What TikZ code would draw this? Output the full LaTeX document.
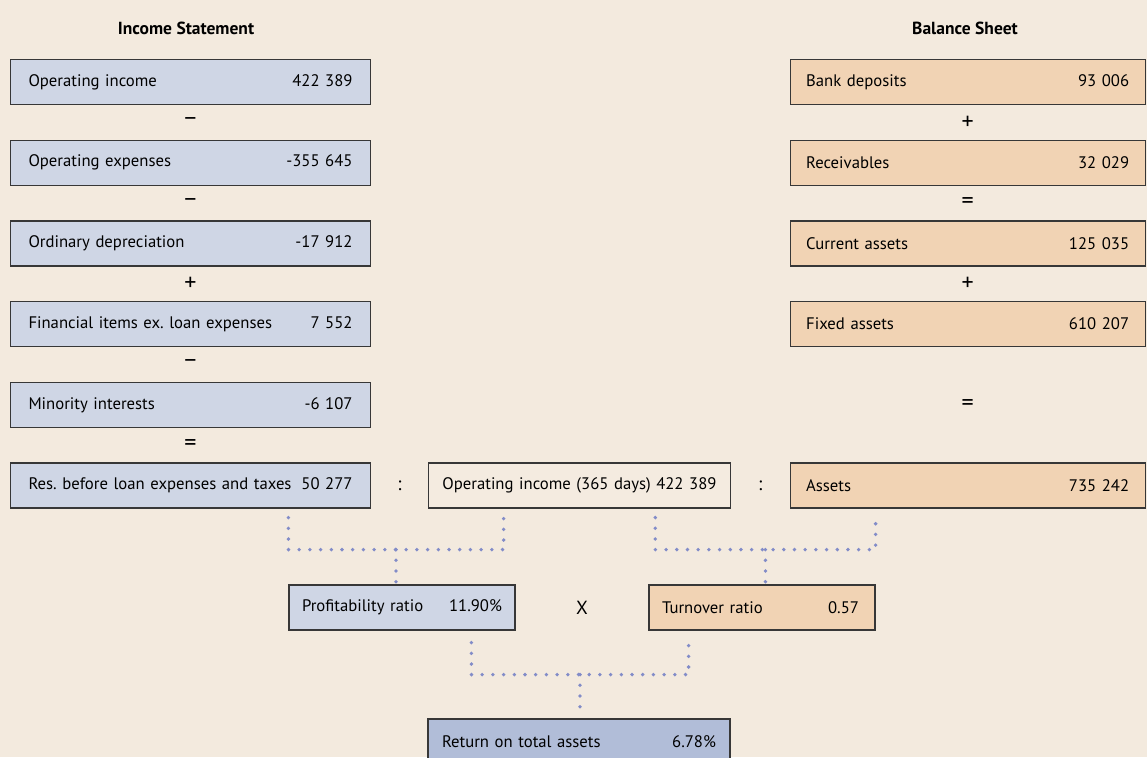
\documentclass[tikz,border=0pt]{standalone}
\usepackage{fontspec}
\setmainfont{PT Sans}
\usetikzlibrary{calc, positioning}
\definecolor{paper}{RGB}{243,234,222}
\definecolor{incfill}{RGB}{207,214,229}
\definecolor{balfill}{RGB}{241,211,180}
\definecolor{retfill}{RGB}{177,189,216}
\definecolor{dotblue}{RGB}{130,140,200}
\definecolor{edge}{RGB}{55,55,55}
\newcommand{\entry}[2]{\hbox to\hsize{#1\hfill#2}}
\frenchspacing

\begin{document}
\begin{tikzpicture}[x=1pt, y=-1pt,
        fig/.style={draw=edge, line width=1.2pt, minimum height=45pt, inner xsep=0pt, inner ysep=0pt},
        incbox/.style={fig, fill=incfill, minimum width=359.5pt, text width=324pt},
        balbox/.style={fig, fill=balfill, minimum width=355pt, text width=323pt},
        midbox/.style={fig, fill=paper!95!white, minimum width=302pt, text width=274pt},
        retbox/.style={fig, fill=retfill, minimum width=302pt, text width=274pt},
        ratio/.style={fig, minimum width=226pt, text width=200pt},
        op/.style={inner sep=0pt, font=\fontsize{24}{28}\selectfont},
        sym/.style={inner sep=0pt, font=\fontsize{19}{22}\selectfont},
        head/.style={font=\fontsize{17.5}{20}\selectfont\bfseries},
        dotline/.style={dotblue, line width=3.8pt, line cap=round, dash pattern=on 0pt off 10.7pt},
        node distance=34.5pt]
        \tikzstyle{every node}=[font=\fontsize{16.7}{20}\selectfont]
        \useasboundingbox (0,0) rectangle (1147,757);
        \clip (0,0) rectangle (1147,757);
        \fill[paper] (0,0) rectangle (1147,757);

        % headings
        \node[head] (inchead) at (186,28) {Income Statement};
        \node[head] (balhead) at (965,28) {Balance Sheet};

        % income statement
        \node[incbox] (opinc) at (190.5,82) {\entry{Operating income}{422 389}};
        \node[incbox, below = of opinc] (opexp) {\entry{Operating expenses}{-355 645}};
        \node[incbox, below = of opexp] (depr) {\entry{Ordinary depreciation}{-17 912}};
        \node[incbox, below = of depr] (finit) {\entry{Financial items ex. loan expenses}{7 552}};
        \node[incbox, below = of finit] (minint) {\entry{Minority interests}{-6 107}};
        \node[incbox, below = of minint] (result) {\entry{Res. before loan expenses and taxes}{50 277}};

        \node[op] (iop1) at ($(opinc.south)!0.5!(opexp.north)$) {−};
        \node[op] (iop2) at ($(opexp.south)!0.5!(depr.north)$) {−};
        \node[op] (iop3) at ($(depr.south)!0.5!(finit.north)$) {+};
        \node[op] (iop4) at ($(finit.south)!0.5!(minint.north)$) {−};
        \node[op] (iop5) at ($(minint.south)!0.5!(result.north)$) {=};

        % middle and balance sheet
        \node[midbox, right = 57pt of result] (opinc365) {\entry{Operating income (365 days)}{422 389}};
        \node[balbox, right = 58.5pt of opinc365] (assets) {\entry{Assets}{735 242}};
        \node[sym] (div1) at ($(result.east)!0.5!(opinc365.west)$) {:};
        \node[sym] (div2) at ($(opinc365.east)!0.5!(assets.west)$) {:};

        \node[balbox] (bank) at (assets |- opinc) {\entry{Bank deposits}{93 006}};
        \node[balbox, below = of bank] (recv) {\entry{Receivables}{32 029}};
        \node[balbox, below = of recv] (curr) {\entry{Current assets}{125 035}};
        \node[balbox, below = of curr] (fixed) {\entry{Fixed assets}{610 207}};

        \node[op] (bop1) at ($(bank.south)!0.5!(recv.north)$) {+};
        \node[op] (bop2) at ($(recv.south)!0.5!(curr.north)$) {=};
        \node[op] (bop3) at ($(curr.south)!0.5!(fixed.north)$) {+};
        \node[op] (bop4) at ($(fixed.south)!0.5!(assets.north)$) {=};

        % ratios
        \node[ratio, fill=incfill] (profit) at (402,607.5) {\entry{Profitability ratio}{11.90\%}};
        \node[ratio, fill=balfill] (turn) at (762,607.5) {\entry{Turnover ratio}{0.57\hspace{3pt}}};
        \node[sym] (times) at ($(profit.east)!0.5!(turn.west)$) {X};
        \node[retbox] (roa) at (579,741.5) {\entry{Return on total assets}{6.78\%}};

        % dotted links
        \coordinate (pa) at ([yshift=-9pt]result.south -| profit.west);
        \coordinate (pb) at ([yshift=-9pt]$(opinc365.south west)!0.25!(opinc365.south east)$);
        \coordinate (ta) at ([yshift=-9pt]$(opinc365.south west)!0.75!(opinc365.south east)$);
        \coordinate (tb) at ([yshift=-9pt]assets.south -| turn.east);
        \coordinate (ra) at ([xshift=44pt, yshift=-12pt]profit.south -| roa.west);
        \coordinate (rb) at ([xshift=-42pt, yshift=-12pt]turn.south -| roa.east);

        \draw[dotline] (pa) -- ++(0,32) -| (pb);
        \draw[dotline] ($(pa)!0.5!(pb)+(0,32)$) -- ($(pa)!0.5!(pb)+(0,65)$);
        \draw[dotline] (ta) -- ++(0,32) -| (tb);
        \draw[dotline] ($(ta)!0.5!(tb)+(0,32)$) -- ($(ta)!0.5!(tb)+(0,65)$);
        \draw[dotline] (ra) -- ++(0,32) -| (rb);
        \draw[dotline] ($(ra)!0.5!(rb)+(0,32)$) -- ($(ra)!0.5!(rb)+(0,65)$);
\end{tikzpicture}
\end{document}
